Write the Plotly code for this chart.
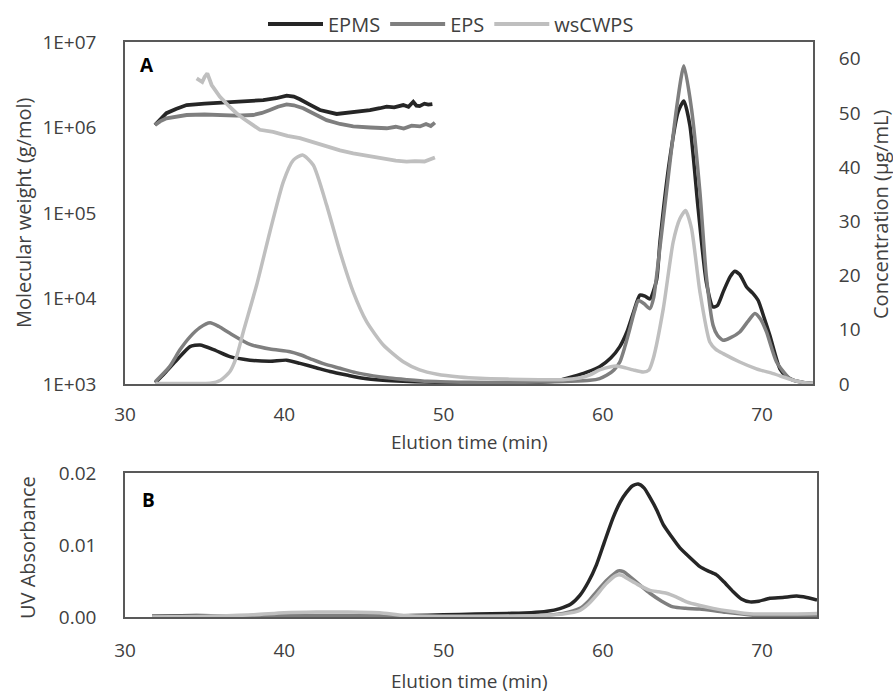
import plotly.graph_objects as go

# ---------------- data ----------------
series_names = ["EPMS", "EPS", "wsCWPS"]
series_colors = ["#262626", "#7f7f7f", "#bfbfbf"]

# Concentration (µg/mL), panel A right axis
epms_conc_t = [31.9, 32.5, 33.25, 34.08, 34.71, 35.6, 36.59, 37.85, 39.1, 40.15, 40.99, 42.0, 42.87, 44.0,
               44.96, 46.2, 47.47, 49.0, 51.0, 53.0, 55.0, 56.5, 57.3, 58.1, 59.0, 59.8, 60.5, 61.07, 61.5,
               61.9, 62.33, 62.65, 62.96, 63.38, 63.59, 64.21, 64.73, 65.09, 65.47, 65.99, 66.5, 66.93,
               67.2, 67.56, 68.0, 68.29, 68.6, 69.03, 69.4, 69.76, 70.1, 70.49, 71.12, 71.5, 71.96, 72.6, 73.3]
epms_conc = [0.2, 2.0, 4.4, 6.9, 7.2, 6.3, 5.04, 4.4, 4.2, 4.4, 3.8, 3.0, 2.3, 1.6,
             1.05, 0.7, 0.5, 0.35, 0.25, 0.2, 0.25, 0.4, 0.7, 1.35, 2.2, 3.2, 4.8, 6.9, 9.5,
             13.0, 16.4, 16.2, 15.7, 19.2, 26.2, 41.6, 50.2, 52.2, 47.7, 32.3, 18.8, 14.2,
             14.5, 17.0, 19.8, 20.8, 20.2, 17.9, 16.8, 15.4, 12.5, 9.0, 2.8, 1.5, 0.7, 0.3, 0.05]

eps_conc_t = [31.9, 32.8, 33.45, 34.08, 34.7, 35.34, 35.9, 36.59, 37.85, 39.1, 40.36, 41.0, 41.61, 42.5,
              43.5, 44.5, 45.59, 46.6, 47.68, 49.0, 51.7, 54.0, 56.05, 58.0, 59.19, 59.8, 60.24, 60.7,
              61.07, 61.4, 61.7, 62.0, 62.23, 62.6, 62.96, 63.2, 63.38, 64.0, 64.63, 65.09, 65.57, 66.1,
              66.5, 66.93, 67.2, 67.56, 68.0, 68.6, 69.1, 69.55, 69.9, 70.28, 70.91, 71.75, 72.5, 73.3]
eps_conc = [0.4, 3.2, 6.3, 8.7, 10.4, 11.3, 10.6, 9.35, 7.3, 6.45, 5.96, 5.4, 4.7, 3.7,
            2.9, 2.1, 1.5, 1.1, 0.8, 0.5, 0.3, 0.3, 0.37, 0.5, 0.68, 1.0, 1.6, 2.6,
            4.06, 7.0, 10.2, 13.5, 15.4, 14.8, 13.9, 16.0, 20.0, 35.4, 50.8, 58.7, 50.8, 35.4,
            20.0, 10.8, 9.0, 8.06, 8.5, 9.6, 11.5, 13.0, 12.0, 9.6, 4.06, 1.0, 0.3, 0.05]

ws_conc_t = [31.9, 34.0, 35.0, 35.34, 36.0, 36.59, 37.0, 37.43, 38.27, 39.1, 39.94, 40.57, 41.15, 41.82,
             42.66, 43.5, 44.33, 45.17, 46.22, 47.47, 48.5, 49.6, 51.0, 52.3, 54.0, 56.0, 57.5, 58.5,
             59.2, 59.8, 60.5, 60.86, 61.4, 61.9, 62.54, 62.9, 63.17, 63.8, 64.42, 64.84, 65.2, 65.57,
             66.1, 66.72, 67.1, 67.56, 68.6, 69.65, 70.7, 71.96, 72.6, 73.3]
ws_conc = [0.1, 0.1, 0.1, 0.13, 0.7, 2.3, 5.0, 9.65, 18.3, 28.1, 37.3, 41.3, 42.25, 40.4,
           33.0, 24.4, 17.0, 11.5, 7.2, 4.1, 2.6, 1.8, 1.3, 1.05, 0.9, 0.8, 0.8, 1.1,
           1.7, 2.6, 3.2, 3.3, 3.0, 2.6, 2.2, 2.6, 4.7, 13.9, 26.2, 30.5, 32.0, 28.7,
           17.0, 7.75, 6.4, 5.6, 4.06, 2.8, 1.9, 0.7, 0.3, 0.1]

# Molecular weight (g/mol), panel A left log axis
epms_mw_t = [31.88, 32.2, 32.6, 33.2, 33.87, 35.0, 35.96, 37.3, 38.68, 39.5, 40.15, 40.6, 40.98, 41.6,
             42.24, 43.29, 44.3, 45.38, 46.0, 46.43, 46.9, 47.47, 47.8, 48.1, 48.3, 48.5, 48.8, 49.04, 49.3]
epms_mw = [1.07e6, 1.25e6, 1.47e6, 1.65e6, 1.83e6, 1.9e6, 1.95e6, 2.0e6, 2.09e6, 2.2e6, 2.36e6, 2.3e6,
           2.14e6, 1.85e6, 1.6e6, 1.44e6, 1.5e6, 1.6e6, 1.68e6, 1.75e6, 1.72e6, 1.83e6, 1.75e6, 2.0e6,
           1.8e6, 1.78e6, 1.9e6, 1.85e6, 1.88e6]

eps_mw_t = [31.88, 32.2, 32.6, 33.2, 33.87, 35.0, 35.96, 37.0, 38.05, 38.6, 39.1, 39.6, 40.15, 40.6,
            41.19, 41.9, 42.66, 43.5, 44.33, 45.4, 46.43, 47.0, 47.5, 48.0, 48.52, 48.9, 49.2, 49.46]
eps_mw = [1.07e6, 1.18e6, 1.28e6, 1.35e6, 1.4e6, 1.42e6, 1.4e6, 1.38e6, 1.4e6, 1.48e6, 1.6e6, 1.75e6,
          1.86e6, 1.82e6, 1.68e6, 1.42e6, 1.22e6, 1.1e6, 1.03e6, 1.0e6, 0.98e6, 1.02e6, 0.97e6, 1.05e6,
          1.03e6, 1.1e6, 1.04e6, 1.14e6]

ws_mw_t = [34.5, 34.7, 34.85, 35.0, 35.17, 35.44, 35.7, 35.96, 36.5, 37.0, 37.5, 38.05, 38.47, 39.3,
           40.2, 40.98, 41.8, 42.66, 43.5, 44.33, 45.4, 46.43, 47.0, 47.68, 48.2, 48.8, 49.46]
ws_mw = [3.76e6, 3.5e6, 3.4e6, 3.9e6, 4.3e6, 3.14e6, 2.7e6, 2.29e6, 1.8e6, 1.47e6, 1.25e6, 1.07e6,
         9.4e5, 8.9e5, 8.0e5, 7.5e5, 6.7e5, 5.96e5, 5.4e5, 4.99e5, 4.6e5, 4.25e5, 4.1e5, 3.98e5,
         4.05e5, 4.0e5, 4.47e5]

# UV absorbance, panel B
epms_uv_t = [31.7, 34.5, 37.0, 40.0, 43.0, 46.0, 48.0, 50.0, 52.0, 54.0, 55.5, 56.5, 57.3, 58.0, 58.56,
             59.1, 59.6, 60.1, 60.65, 61.1, 61.49, 61.85, 62.22, 62.6, 62.96, 63.4, 63.79, 64.3, 64.84,
             65.5, 66.1, 66.6, 67.14, 67.6, 68.19, 68.7, 69.24, 69.8, 70.49, 71.3, 72.17, 72.8, 73.45]
epms_uv = [0.0001, 0.0002, 0.0001, 0.0001, 0.0001, 0.0001, 0.0002, 0.0003, 0.0004, 0.0005, 0.0006,
           0.0008, 0.00117, 0.0018, 0.003, 0.0049, 0.00725, 0.0104, 0.0138, 0.0160, 0.0173, 0.0182,
           0.01846, 0.0179, 0.0166, 0.0148, 0.01286, 0.0112, 0.0096, 0.0082, 0.007, 0.0064, 0.00585,
           0.0049, 0.0035, 0.0025, 0.0021, 0.0022, 0.0026, 0.0027, 0.0029, 0.0027, 0.00234]

eps_uv_t = [31.7, 35.0, 38.0, 41.0, 44.0, 47.0, 50.0, 53.0, 56.0, 57.5, 58.56, 59.1, 59.6, 60.3, 60.97,
            61.3, 61.7, 62.3, 62.96, 63.7, 64.42, 65.2, 66.1, 67.56, 69.65, 71.5, 73.45]
eps_uv = [0.0001, 0.0001, 0.0001, 0.0002, 0.0002, 0.0001, 0.0, 0.0001, 0.0002, 0.0005, 0.0012, 0.0022,
          0.0035, 0.0052, 0.0064, 0.0063, 0.0056, 0.0045, 0.0033, 0.0022, 0.0014, 0.0012, 0.0011,
          0.0007, 0.0002, 0.0001, 0.0001]

ws_uv_t = [31.7, 35.0, 38.0, 40.0, 42.0, 44.0, 46.0, 47.5, 50.0, 53.0, 56.0, 57.5, 58.56, 59.1, 59.6,
           60.2, 60.86, 61.2, 61.49, 62.2, 62.96, 63.5, 64.0, 64.6, 65.26, 66.1, 66.93, 68.0, 69.03,
           71.0, 73.45]
ws_uv = [0.0, 0.0001, 0.0003, 0.0006, 0.0007, 0.0007, 0.0006, 0.0002, 0.0001, 0.0001, 0.0002, 0.0004,
         0.0009, 0.0018, 0.003, 0.0046, 0.0058, 0.0058, 0.0054, 0.0045, 0.0037, 0.0035, 0.0033,
         0.0028, 0.0021, 0.0016, 0.0012, 0.0008, 0.0005, 0.0004, 0.0005]

mw_ticks = [1e3, 1e4, 1e5, 1e6, 1e7]
mw_ticktext = ["1E+03", "1E+04", "1E+05", "1E+06", "1E+07"]
conc_ticks = [0, 10, 20, 30, 40, 50, 60]
uv_ticks = [0, 0.01, 0.02]
uv_ticktext = ["0.00", "0.01", "0.02"]
time_ticks = [30, 40, 50, 60, 70]

# ---------------- figure ----------------
W, H = 893, 695
FONT = "Open Sans"
TXT = "#404040"
AX = "#595959"

conc = [(epms_conc_t, epms_conc), (eps_conc_t, eps_conc), (ws_conc_t, ws_conc)]
mws = [(epms_mw_t, epms_mw), (eps_mw_t, eps_mw), (ws_mw_t, ws_mw)]
uvs = [(epms_uv_t, epms_uv), (eps_uv_t, eps_uv), (ws_uv_t, ws_uv)]

fig = go.Figure()
for i, name in enumerate(series_names):
    t, v = mws[i]
    fig.add_trace(go.Scatter(x=t, y=v, mode="lines", name=name, legendgroup=name, showlegend=True,
                             line=dict(color=series_colors[i], width=3.8), xaxis="x", yaxis="y"))
for i, name in enumerate(series_names):
    t, v = conc[i]
    fig.add_trace(go.Scatter(x=t, y=v, mode="lines", name=name, legendgroup=name, showlegend=False,
                             line=dict(color=series_colors[i], width=3.5, shape="spline", smoothing=0.6),
                             xaxis="x", yaxis="y2"))
for i, name in enumerate(series_names):
    t, v = uvs[i]
    fig.add_trace(go.Scatter(x=t, y=v, mode="lines", name=name, legendgroup=name, showlegend=False,
                             line=dict(color=series_colors[i], width=3.5, shape="spline", smoothing=0.6),
                             xaxis="x2", yaxis="y3"))

def px(x):
    return x / W

def py(y):
    return 1 - y / H

FS = 19
tickfont = dict(family=FONT, size=FS, color=TXT)
common = dict(showgrid=False, zeroline=False, showline=True, linecolor=AX, linewidth=1.5,
              tickfont=tickfont, ticks="outside", tickcolor="rgba(0,0,0,0)", automargin=False)

fig.update_layout(
    width=W, height=H,
    margin=dict(l=0, r=0, t=0, b=0, pad=0, autoexpand=False),
    paper_bgcolor="white", plot_bgcolor="white",
    font=dict(family=FONT, color=TXT, size=FS),
    xaxis=dict(domain=[px(125), px(813)], range=[30, 73.2], anchor="y", tickvals=time_ticks,
               mirror=True, ticklen=12, **common),
    yaxis=dict(domain=[py(384), py(42)], type="log", range=[3, 7], anchor="x", tickvals=mw_ticks,
               ticktext=mw_ticktext, mirror=True, ticklen=23, **common),
    yaxis2=dict(overlaying="y", side="right", range=[0, 63.1], anchor="x", tickvals=conc_ticks,
                showgrid=False, zeroline=False, showline=False, tickfont=tickfont, automargin=False,
                ticks="outside", tickcolor="rgba(0,0,0,0)", ticklen=21),
    xaxis2=dict(domain=[px(125), px(817)], range=[30, 73.45], anchor="y3", tickvals=time_ticks,
                mirror=True, ticklen=15, **common),
    yaxis3=dict(domain=[py(617), py(473)], range=[0, 0.02], anchor="x2", tickvals=uv_ticks,
                ticktext=uv_ticktext, mirror=True, ticklen=23, **common),
    legend=dict(orientation="h", x=px(263), xanchor="left", y=py(24), yanchor="middle",
                font=dict(family=FONT, size=20, color=TXT), bgcolor="rgba(0,0,0,0)",
                traceorder="normal", itemwidth=55),
    showlegend=True,
)

ann = [
    dict(text="Molecular weight (g/mol)", x=px(23), y=py(213), textangle=-90, size=20),
    dict(text="Concentration (µg/mL)", x=px(880), y=py(215), textangle=-90, size=20),
    dict(text="Elution time (min)", x=px(469), y=py(442), size=FS),
    dict(text="UV Absorbance", x=px(27), y=py(548), textangle=-90, size=20),
    dict(text="Elution time (min)", x=px(469), y=py(681), size=FS),
]
for a in ann:
    size = a.pop("size")
    fig.add_annotation(xref="paper", yref="paper", showarrow=False, xanchor="center", yanchor="middle",
                       font=dict(family=FONT, size=size, color=TXT), **a)
fig.add_annotation(text="<b>A</b>", xref="paper", yref="paper", x=px(147), y=py(65), showarrow=False,
                   xanchor="center", yanchor="middle", font=dict(family=FONT, size=19, color="black"))
fig.add_annotation(text="<b>B</b>", xref="paper", yref="paper", x=px(148), y=py(500), showarrow=False,
                   xanchor="center", yanchor="middle", font=dict(family=FONT, size=19, color="black"))

fig.write_html("out.html")
